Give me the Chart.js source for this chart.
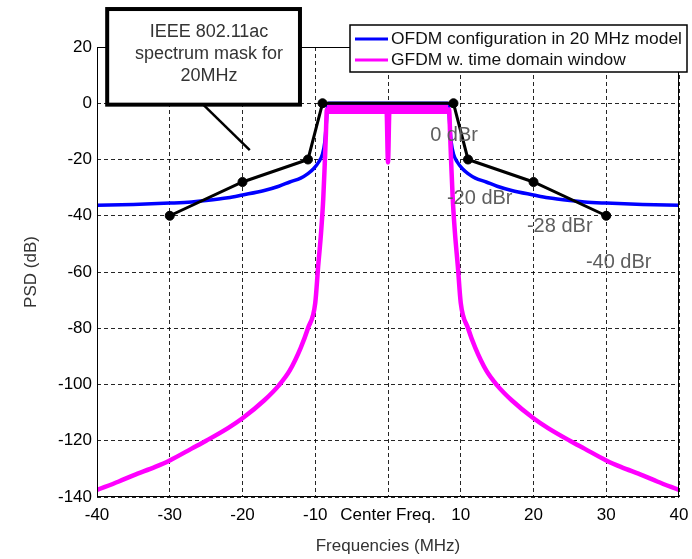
<!DOCTYPE html>
<html><head><meta charset="utf-8">
<script src="https://cdn.jsdelivr.net/npm/chart.js@4"></script>
<style>html,body{margin:0;padding:0;background:#fff;}#wrap{width:692px;height:559px;}</style>
</head><body><div id="wrap"><canvas id="c" width="692" height="559"></canvas></div>
<script>
// ---- data ----
const xTickValues = [-40, -30, -20, -10, 0, 10, 20, 30, 40];
const xTickLabels = ['-40', '-30', '-20', '-10', 'Center Freq.', '10', '20', '30', '40'];
const yTickValues = [20, 0, -20, -40, -60, -80, -100, -120, -140];

const seriesNames = ['OFDM configuration in 20 MHz model', 'GFDM w. time domain window'];

const maskFreq = [-30, -20, -11, -9, 9, 11, 20, 30];
const maskPsd  = [-40, -28, -20, 0, 0, -20, -28, -40];
const maskLabels = ['0 dBr', '-20 dBr', '-28 dBr', '-40 dBr'];

const ofdmFreq = [-40, -35, -30, -27, -25, -22, -20, -17, -15, -13.5, -12, -11, -10.2, -9.5, -9, -8.7, -8.5, -8.35, -8.2, 0,
                  8.2, 8.35, 8.5, 8.7, 9, 9.5, 10.2, 11, 12, 13.5, 15, 17, 20, 22, 25, 27, 30, 35, 40];
const ofdmPsd  = [-36.3, -36, -35.5, -35.1, -34.6, -33.6, -32.6, -31, -29.5, -28, -26.6, -25, -23.2, -20.8, -18, -14, -8, -2, 0, 0,
                  0, -2, -8, -14, -18, -20.8, -23.2, -25, -26.6, -28, -29.5, -31, -32.6, -33.6, -34.6, -35.1, -35.5, -36, -36.3];

const gfdmFreq = [-40, -37, -35, -32, -30, -27, -25, -22, -20, -17, -15, -13.5, -12, -11, -10, -9.6, -9.2, -8.9, -8.7, -8.55, -8.4,
                  -4, -0.2, 0, 0.2, 4,
                  8.4, 8.55, 8.7, 8.9, 9.2, 9.6, 10, 11, 12, 13.5, 15, 17, 20, 22, 25, 27, 30, 32, 35, 37, 40];
const gfdmPsd  = [-137.5, -134.5, -132.3, -129.3, -127, -122.8, -120, -115.5, -112, -105.6, -100.3, -95, -87, -80, -71, -58, -46, -34, -22, -12, -2.2,
                  -2.2, -2.2, -21, -2.2, -2.2,
                  -2.2, -12, -22, -34, -46, -58, -71, -80, -87, -95, -100.3, -105.6, -112, -115.5, -120, -122.8, -127, -129.3, -132.3, -134.5, -137.5];

const gfdmBandFreq = [-8.4, 8.3];
const gfdmBandTop = [-0.5, -0.5];
const gfdmBandBottom = [-3.8, -3.8];

const pts = (xs, ys) => xs.map((x, i) => ({x: x, y: ys[i]}));

// ---- annotation layout (data coordinates) ----
const dbrAnchors = [[5.8, -11.6], [8.1, -34], [19.1, -43.7], [27.2, -56.5]];

const FONT = '"Liberation Sans", Arial, Helvetica, sans-serif';
Chart.defaults.font.family = FONT;
Chart.defaults.font.size = 17;
Chart.defaults.color = '#000';

const overlay = {
  id: 'overlay',
  afterDraw(chart) {
    const {ctx, chartArea: a, scales: {x, y}} = chart;
    ctx.save();
    // frame
    ctx.strokeStyle = '#000';
    ctx.lineWidth = 1;
    ctx.setLineDash([]);
    ctx.strokeRect(a.left + 0.5, a.top + 0.5, a.right - a.left - 1, a.bottom - a.top - 1);

    // dBr labels
    ctx.font = '20px ' + FONT;
    ctx.fillStyle = '#5e5e5e';
    ctx.textAlign = 'left';
    ctx.textBaseline = 'middle';
    maskLabels.forEach((t, i) => {
      ctx.fillText(t, x.getPixelForValue(dbrAnchors[i][0]), y.getPixelForValue(dbrAnchors[i][1]));
    });

    // legend
    const lx = 350, ly = 25, lw = 337, lh = 47;
    ctx.fillStyle = '#fff';
    ctx.fillRect(lx, ly, lw, lh);
    ctx.strokeStyle = '#000';
    ctx.lineWidth = 1.5;
    ctx.strokeRect(lx, ly, lw, lh);
    const legendColors = ['#0000ff', '#ff00ff'];
    ctx.font = '17.4px ' + FONT;
    ctx.textBaseline = 'middle';
    seriesNames.forEach((n, i) => {
      const yy = ly + 14 + i * 21;
      ctx.strokeStyle = legendColors[i];
      ctx.lineWidth = 3;
      ctx.beginPath(); ctx.moveTo(lx + 5, yy); ctx.lineTo(lx + 38, yy); ctx.stroke();
      ctx.fillStyle = '#111';
      ctx.fillText(n, lx + 41, yy);
    });

    // annotation box with pointer
    const bx1 = x.getPixelForValue(-38.6), bx2 = x.getPixelForValue(-12.1);
    const by1 = y.getPixelForValue(33.5), by2 = y.getPixelForValue(-0.5);
    ctx.strokeStyle = '#000';
    ctx.lineWidth = 2.5;
    ctx.beginPath();
    ctx.moveTo(x.getPixelForValue(-25.4), by2);
    ctx.lineTo(x.getPixelForValue(-19.0), y.getPixelForValue(-16.7));
    ctx.stroke();
    ctx.fillStyle = '#fff';
    ctx.fillRect(bx1, by1, bx2 - bx1, by2 - by1);
    ctx.lineWidth = 4;
    ctx.strokeRect(bx1, by1, bx2 - bx1, by2 - by1);
    ctx.font = '18px ' + FONT;
    ctx.fillStyle = '#333';
    ctx.textAlign = 'center';
    const cx = 209;
    ['IEEE 802.11ac', 'spectrum mask for', '20MHz'].forEach((t, i) => {
      ctx.fillText(t, cx, 32 + i * 22);
    });
    ctx.restore();
  }
};

new Chart(document.getElementById('c'), {
  type: 'line',
  data: {
    datasets: [
      {
        label: 'mask', data: pts(maskFreq, maskPsd),
        borderColor: '#000', borderWidth: 3, tension: 0,
        pointRadius: 4.5, pointBackgroundColor: '#000', pointBorderColor: '#000', pointBorderWidth: 1,
        fill: false
      },
      {
        label: seriesNames[1], data: pts(gfdmFreq, gfdmPsd),
        borderColor: '#ff00ff', borderWidth: 4.5, pointRadius: 0,
        cubicInterpolationMode: 'monotone', borderJoinStyle: 'round', borderCapStyle: 'round', fill: false
      },
      {
        label: 'bandTop', data: pts(gfdmBandFreq, gfdmBandTop),
        borderWidth: 0, borderColor: 'rgba(0,0,0,0)', pointRadius: 0, fill: false
      },
      {
        label: 'bandBottom', data: pts(gfdmBandFreq, gfdmBandBottom),
        borderWidth: 0, borderColor: 'rgba(0,0,0,0)', pointRadius: 0,
        fill: '-1', backgroundColor: '#ff00ff'
      },
      {
        label: seriesNames[0], data: pts(ofdmFreq, ofdmPsd),
        borderColor: '#0000ff', borderWidth: 3.5, pointRadius: 0,
        cubicInterpolationMode: 'monotone', fill: false
      }
    ]
  },
  options: {
    responsive: false,
    animation: false,
    devicePixelRatio: 1,
    layout: {padding: {top: 47, right: 13, left: 0, bottom: 0}},
    plugins: {legend: {display: false}, tooltip: {enabled: false}},
    events: [],
    scales: {
      x: {
        type: 'linear', min: -40, max: 40,
        afterFit: s => { s.height = 62; s.paddingLeft = 0; s.paddingRight = 0; },
        afterBuildTicks: s => { s.ticks = xTickValues.map(v => ({value: v})); },
        ticks: {
          autoSkip: false, maxRotation: 0, padding: 8, color: '#000',
          callback: v => { const i = xTickValues.indexOf(v); return i >= 0 ? xTickLabels[i] : ''; }
        },
        grid: {color: 'rgba(0,0,0,0.85)', lineWidth: 1, drawTicks: false},
        border: {display: false, dash: [4, 3]},
        title: {display: true, text: 'Frequencies (MHz)', color: '#333', font: {size: 17}, padding: {top: 0, bottom: 2}}
      },
      y: {
        type: 'linear', min: -140, max: 20,
        afterFit: s => { s.width = 97; s.paddingTop = 0; s.paddingBottom = 0; },
        afterBuildTicks: s => { s.ticks = yTickValues.map(v => ({value: v})); },
        ticks: {padding: 5, color: '#000', autoSkip: false},
        grid: {color: 'rgba(0,0,0,0.85)', lineWidth: 1, drawTicks: false},
        border: {display: false, dash: [4, 3]},
        title: {display: true, text: 'PSD (dB)', color: '#333', font: {size: 17}, padding: {top: 21, bottom: 0}}
      }
    }
  },
  plugins: [overlay]
});
</script>
</body></html>
